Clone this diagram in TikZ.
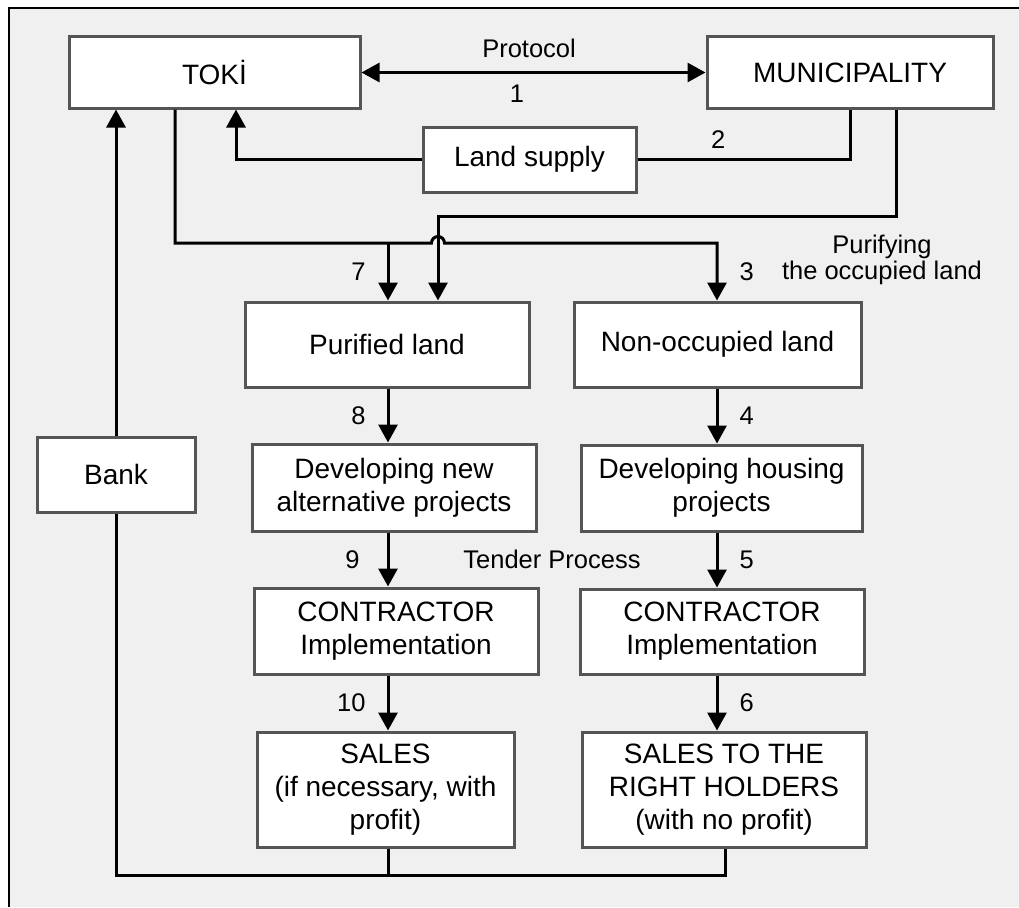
\documentclass[tikz,border=0pt]{standalone}
\usepackage{fontspec}
\setmainfont{Liberation Sans}
\usetikzlibrary{arrows.meta}

\definecolor{panelgray}{HTML}{F0F0F0}
\definecolor{boxedge}{HTML}{555555}

\tikzset{
  box/.style={draw=boxedge, line width=3pt, fill=white, align=center, inner sep=2pt,
    font=\fontsize{28}{33}\selectfont},
  lbl/.style={inner sep=0pt, font=\fontsize{25.5}{26}\selectfont},
  link/.style={line width=3pt},
  tip/.style={Triangle[length=18pt,width=19pt]},
  arr/.style={link, -{Triangle[length=18pt,width=19pt]}},
}

\begin{document}
\begin{tikzpicture}[x=1pt, y=-1pt]
  \useasboundingbox (0,0) rectangle (1019,907);
  \fill[panelgray] (9,8) rectangle (1019,907);
  \draw[line width=2pt] (1019,8) -- (9,8) -- (9,907);

  \node[box, minimum width=291pt, minimum height=71pt] (toki) at (214.5,72.5) {TOKİ};
  \node[box, minimum width=286pt, minimum height=71pt] (muni) at (850,72.5) {MUNICIPALITY};
  \node[box, minimum width=213pt, minimum height=65pt] (land) at (529.5,159.5) {Land supply};
  \node[box, minimum width=284pt, minimum height=85pt] (purified) at (387,344.5) {Purified land};
  \node[box, minimum width=287pt, minimum height=85pt] (nonocc) at (717.5,344.5) {Non-occupied land};
  \node[box, minimum width=284pt, minimum height=87pt] (devnew) at (394,487.5) {Developing new\\alternative projects};
  \node[box, minimum width=281pt, minimum height=86pt] (devhouse) at (721.5,488) {Developing housing\\projects};
  \node[box, minimum width=284pt, minimum height=86pt] (contrL) at (396,631) {CONTRACTOR\\Implementation};
  \node[box, minimum width=284pt, minimum height=85pt] (contrR) at (722,631.5) {CONTRACTOR\\Implementation};
  \node[box, minimum width=257pt, minimum height=115pt] (salesL) at (385.5,789.5) {SALES\\(if necessary, with\\profit)};
  \node[box, minimum width=284pt, minimum height=115pt] (salesR) at (724,789.5) {SALES TO THE\\RIGHT HOLDERS\\(with no profit)};
  \node[box, minimum width=158pt, minimum height=75pt] (bank) at (116,474.5) {Bank};

  \coordinate (colL) at (388,0);
  \coordinate (colR) at (717,0);
  \coordinate (hop) at (438,243);
  \coordinate (mrun) at (438,216);
  \coordinate (floor) at (725,875);

  \draw[link, {Triangle[length=18pt,width=19pt]}-{Triangle[length=18pt,width=19pt]}] (toki.east) -- (muni.west)
    node[lbl, pos=0.487, above=13pt] (protocol) {Protocol}
    node[lbl, pos=0.452, below=11pt] {1};
  \draw[arr] (land.west) -| ([xshift=21.5pt]toki.south);
  \draw[link] (land.east) -| (muni.south) node[lbl, pos=0.19, above=10pt] {2};

  \draw[arr] ([xshift=-39.5pt]toki.south) |- ([xshift=-6.5pt]hop)
    arc[start angle=180, end angle=0, radius=6.5pt] -- (hop -| colR)
    -- (nonocc.north -| colR) node[lbl, midway, right=21pt] {3};
  \draw[arr] (hop -| colL) -- (purified.north -| colL) node[lbl, midway, left=21pt] {7};
  \draw[arr] ([xshift=46pt]muni.south) |- (mrun) -- (purified.north -| mrun);
  \node[lbl, align=center] (purifying) at (882,259.5) {Purifying\\the occupied land};

  \draw[arr] (purified.south -| colL) -- (devnew.north -| colL) node[lbl, midway, left=21pt] {8};
  \draw[arr] (devnew.south -| colL) -- (contrL.north -| colL) node[lbl, midway, left=27pt] {9};
  \draw[arr] (contrL.south -| colL) -- (salesL.north -| colL) node[lbl, midway, left=21pt] {10};
  \draw[arr] (nonocc.south -| colR) -- (devhouse.north -| colR) node[lbl, midway, right=21pt] {4};
  \draw[arr] (devhouse.south -| colR) -- (contrR.north -| colR) node[lbl, midway, right=21pt] {5};
  \draw[arr] (contrR.south -| colR) -- (salesR.north -| colR) node[lbl, midway, right=21pt] {6};
  \node[lbl] (tender) at (552,559) {Tender Process};

  \draw[arr] (bank.north) -- (bank.north |- toki.south);
  \draw[link] (bank.south) |- (floor) -- (salesR.south -| floor);
  \draw[link] (salesL.south -| colL) -- (floor -| colL);
\end{tikzpicture}
\end{document}
